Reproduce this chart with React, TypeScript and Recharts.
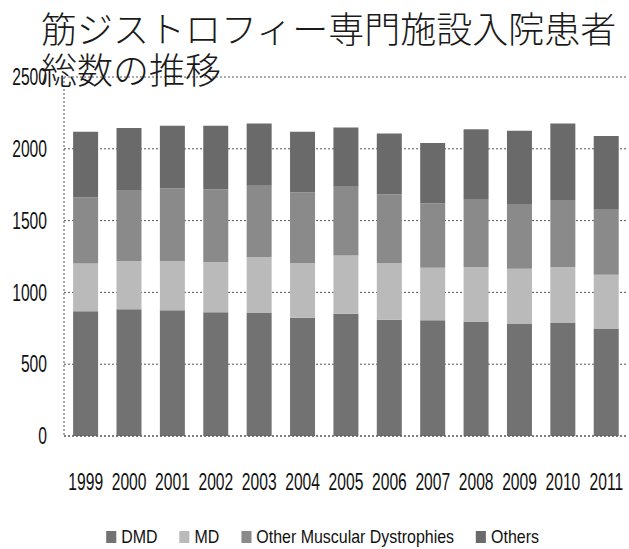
import { BarChart, Bar, XAxis, YAxis, CartesianGrid } from 'recharts';

const years = ['1999', '2000', '2001', '2002', '2003', '2004', '2005', '2006', '2007', '2008', '2009', '2010', '2011'];
const dmd = [868, 882, 875, 861, 856, 824, 852, 810, 806, 794, 783, 787, 748];
const md = [333, 335, 342, 349, 389, 380, 405, 394, 365, 382, 382, 389, 375];
const otherMd = [461, 496, 507, 507, 498, 493, 479, 477, 449, 475, 451, 468, 458];
const others = [456, 431, 436, 443, 433, 421, 412, 425, 420, 486, 509, 532, 509];
const yTicks = [0, 500, 1000, 1500, 2000, 2500];

const series = [
  { key: 'dmd', name: 'DMD', color: '#727272' },
  { key: 'md', name: 'MD', color: '#bababa' },
  { key: 'otherMd', name: 'Other Muscular Dystrophies', color: '#8a8a8a' },
  { key: 'others', name: 'Others', color: '#6a6a6a' },
];

const data = years.map((year, i) => ({
  year,
  dmd: dmd[i],
  md: md[i],
  otherMd: otherMd[i],
  others: others[i],
}));

const font = "'Liberation Sans', Arial, sans-serif";

// the source uses a condensed face, so squeeze Liberation Sans horizontally
const XTick = ({ x, y, payload }: any) => (
  <text
    transform={`translate(${x},${y + 39.5}) scale(0.68,1)`}
    textAnchor="middle"
    dominantBaseline="central"
    fontFamily={font}
    fontSize={23}
    fill="#111"
  >
    {payload.value}
  </text>
);

const YTick = ({ x, y, payload }: any) => (
  <text
    transform={`translate(${x},${y}) scale(0.68,1)`}
    textAnchor="end"
    dominantBaseline="central"
    fontFamily={font}
    fontSize={23}
    fill="#111"
  >
    {payload.value}
  </text>
);

export default function App() {
  return (
    <div style={{ position: 'absolute', left: 0, top: 0, width: 629, height: 549, background: '#fff' }}>
      <div
        style={{
          position: 'absolute',
          left: 41,
          top: 7,
          fontFamily: "'Noto Sans CJK JP', sans-serif",
          fontWeight: 300,
          fontSize: 36,
          lineHeight: '41px',
          color: '#1a1a1a',
          zIndex: 2,
          whiteSpace: 'nowrap',
        }}
      >
        筋ジストロフィー専門施設入院患者
        <br />
        総数の推移
      </div>
      <BarChart
        width={629}
        height={549}
        data={data}
        margin={{ top: 77, right: 1, left: 0, bottom: 83 }}
        barCategoryGap="21%"
      >
        <CartesianGrid vertical={false} stroke="#555" strokeDasharray="2 2" />
        <XAxis
          dataKey="year"
          axisLine={{ stroke: '#555', strokeDasharray: '2 2' }}
          tickLine={false}
          tickMargin={0}
          tick={<XTick />}
        />
        <YAxis
          domain={[0, 2500]}
          ticks={yTicks}
          width={64}
          axisLine={{ stroke: '#555', strokeDasharray: '2 2' }}
          tickLine={false}
          tickMargin={11}
          tick={<YTick />}
        />
        {series.map((s) => (
          <Bar
            key={s.key}
            dataKey={s.key}
            name={s.name}
            stackId="a"
            fill={s.color}
            isAnimationActive={false}
          />
        ))}
      </BarChart>
      <div
        style={{
          position: 'absolute',
          left: 7.5,
          width: 629,
          top: 526,
          display: 'flex',
          justifyContent: 'center',
          gap: 26,
          fontFamily: font,
          fontSize: 19,
          lineHeight: '22px',
          color: '#111',
          transform: 'scaleX(0.84)',
          transformOrigin: '314.5px 0',
        }}
      >
        {series.map((s) => (
          <div key={s.key} style={{ display: 'flex', alignItems: 'center' }}>
            <span style={{ display: 'inline-block', width: 12, height: 12, background: s.color, marginRight: 6 }} />
            <span>{s.name}</span>
          </div>
        ))}
      </div>
    </div>
  );
}
